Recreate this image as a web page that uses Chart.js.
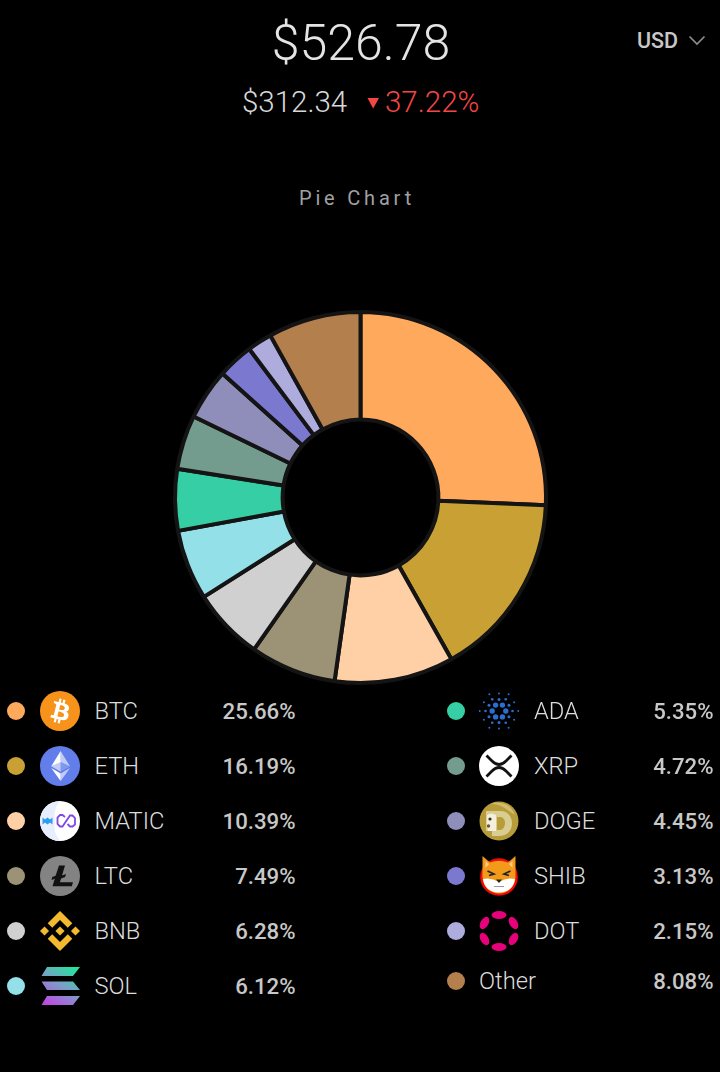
<!DOCTYPE html>
<html>
<head>
<meta charset="utf-8">
<title>Pie Chart</title>
<script src="https://cdn.jsdelivr.net/npm/chart.js@4"></script>
<style>
html, body { margin: 0; background: #000; }
body { position: relative; width: 720px; height: 1072px; overflow: hidden; font-family: Roboto, sans-serif; color: #ddd; }
.abs { position: absolute; white-space: nowrap; line-height: 1; }
#total { left: 0; width: 722px; top: 18px; text-align: center; font-size: 50px; font-weight: 300; color: #e4e4e4; }
#cost { left: 242px; top: 88px; font-size: 29.5px; font-weight: 300; color: #d8d8d8; }
#tri { left: 367px; top: 97px; }
#change { left: 385px; top: 88px; font-size: 29.5px; font-weight: 300; color: #f44646; }
#currency { left: 637px; top: 30px; font-size: 21.5px; font-weight: 500; color: #c8c8c8; }
#chev { left: 688px; top: 34px; }
#title { left: 0; width: 714px; top: 188px; text-align: center; font-size: 20px; letter-spacing: 3.8px; color: #a0a0a0; }
#pie { position: absolute; left: 161px; top: 297px; }
.dot { position: absolute; width: 18px; height: 18px; border-radius: 50%; }
.icon { position: absolute; width: 40px; height: 40px; }
.name { font-size: 23.7px; font-weight: 300; color: #dcdcdc; }
.pct { font-size: 22.2px; font-weight: 500; color: #c8c8c8; text-align: right; }
</style>
</head>
<body>
<div class="abs" id="total">$526.78</div>
<div class="abs" id="cost">$312.34</div>
<svg class="abs" id="tri" width="13" height="12"><path d="M0.5 1H12L6.2 11.5z" fill="#f44646"/></svg>
<div class="abs" id="change">37.22%</div>
<div class="abs" id="currency">USD</div>
<svg class="abs" id="chev" width="18" height="14"><path d="M1.5 2.5L9 10L16.5 2.5" fill="none" stroke="#8c8c8c" stroke-width="1.7"/></svg>
<div class="abs" id="title">Pie Chart</div>
<canvas id="pie" width="399" height="401"></canvas>

<script>
const symbols = ['BTC', 'ETH', 'MATIC', 'LTC', 'BNB', 'SOL', 'ADA', 'XRP', 'DOGE', 'SHIB', 'DOT', 'Other'];
const shares = [25.66, 16.19, 10.39, 7.49, 6.28, 6.12, 5.35, 4.72, 4.45, 3.13, 2.15, 8.08];
const colors = ['#ffa95c', '#c9a033', '#ffd0a6', '#9c9276', '#d0d0d0', '#93e0e8', '#36cfa5', '#749c8e', '#8f8dba', '#7b78d0', '#adacdc', '#b37f4c'];

// small hand drawn coin logos, 40x40 unless a viewBox says otherwise
function adaDots() {
    const rings = [[6.8, 2.7, 0], [11.5, 1.5, 30], [13.5, 1.3, 0], [17.5, 1.0, 30], [19.3, 1.0, 0]];
    let out = '';
    rings.forEach(([r, size, start]) => {
        for (let k = 0; k < 6; k++) {
            const a = (start + k * 60) * Math.PI / 180;
            out += `<circle cx="${20 + r * Math.cos(a)}" cy="${20 + r * Math.sin(a)}" r="${size}" fill="#2a6fcf"/>`;
        }
    });
    return out;
}

const icons = {
    BTC: `<svg class="icon" viewBox="0 0 32 32"><circle cx="16" cy="16" r="16" fill="#f7931a"/><path fill="#fff" d="M23.189 14.02c.314-2.096-1.283-3.223-3.465-3.975l.708-2.84-1.728-.43-.69 2.765c-.454-.114-.92-.22-1.385-.326l.695-2.783L15.596 6l-.708 2.839c-.376-.086-.746-.17-1.104-.26l.002-.009-2.384-.595-.46 1.846s1.283.294 1.256.312c.7.175.826.638.805 1.006l-.806 3.235c.048.012.11.03.18.057l-.183-.045-1.13 4.532c-.086.212-.303.531-.793.41.018.025-1.256-.313-1.256-.313l-.858 1.978 2.25.561c.418.105.828.215 1.231.318l-.715 2.872 1.727.43.708-2.84c.472.127.93.245 1.378.357l-.706 2.828 1.728.43.715-2.866c2.948.558 5.164.333 6.097-2.333.752-2.146-.037-3.385-1.588-4.192 1.13-.26 1.98-1.003 2.207-2.538zm-3.95 5.538c-.533 2.147-4.148.986-5.32.695l.95-3.805c1.172.293 4.929.872 4.37 3.11zm.535-5.569c-.487 1.953-3.495.96-4.47.717l.86-3.45c.975.243 4.118.696 3.61 2.733z"/></svg>`,
    ETH: `<svg class="icon" viewBox="0 0 32 32"><circle cx="16" cy="16" r="16" fill="#627eea"/><g fill="#fff"><path fill-opacity=".6" d="M16.5 4v8.87l7.5 3.35z"/><path d="M16.5 4L9 16.22l7.5-3.35z"/><path fill-opacity=".6" d="M16.5 21.97V28L24 17.62z"/><path d="M16.5 28v-6.03L9 17.62z"/><path fill-opacity=".2" d="M16.5 20.57l7.5-4.35-7.5-3.35z"/><path fill-opacity=".6" d="M9 16.22l7.5 4.35v-8.7z"/></g></svg>`,
    MATIC: `<svg class="icon" viewBox="0 0 40 40"><circle cx="20" cy="20" r="20" fill="#fff"/><path d="M20 0A20 20 0 0 0 20 40A24 24 0 0 1 15 20A24 24 0 0 1 20 0z" fill="#e6eeff"/><path d="M2.5 16.500v7l2.500-2 2.500 2 2.500-2 2.500 2v-7l-2.500 2-2.500-2-2.500 2z" fill="#2d9bf0"/><path d="M25 16L22.500 14h-2.500L17.500 16.500v6.500L20 25.500h2.500L30 14.500h2.500L35 17v6.500L32.500 25.500H30L27.500 23" fill="none" stroke="#8247e5" stroke-width="1.8"/></svg>`,
    LTC: `<svg class="icon" viewBox="0 0 40 40"><circle cx="20" cy="20" r="20" fill="#838383"/><path fill="#111" d="M19 9.500h6l-3 10 4-1.500-.9 3-4 1.500-1.200 3.800H33l-1.200 4H12.500l2.300-7.600-3.300 1.200.8-2.900 3.300-1.200z"/></svg>`,
    BNB: `<svg class="icon" viewBox="6 6 20 20"><path fill="#f3ba2f" d="M12.116 14.404L16 10.52l3.886 3.886 2.26-2.26L16 6l-6.144 6.144 2.26 2.26zM6 16l2.26-2.26L10.52 16l-2.26 2.26L6 16zm6.116 1.596L16 21.48l3.886-3.886 2.26 2.259L16 26l-6.144-6.144-.003-.003 2.263-2.257zM21.48 16l2.26-2.26L26 16l-2.26 2.26L21.48 16zm-3.188-.002h.002V16L16 18.294l-2.291-2.29-.004-.004.004-.003.401-.402.195-.195L16 13.706l2.293 2.293z"/></svg>`,
    SOL: `<svg class="icon" viewBox="0 0 40 40"><defs><linearGradient id="solg" gradientUnits="userSpaceOnUse" x1="34" y1="-3" x2="8" y2="42"><stop offset="0" stop-color="#14f195"/><stop offset=".5" stop-color="#7c9dc8"/><stop offset="1" stop-color="#c73ee8"/></linearGradient></defs><path fill="url(#solg)" d="M7 1h33l-7 9H1.5zM1.5 15.500H33l7 8.500H7zM7 30h33l-7 9H1.500z"/></svg>`,
    ADA: `<svg class="icon" viewBox="0 0 40 40">${adaDots()}</svg>`,
    XRP: `<svg class="icon" viewBox="0 0 40 40"><circle cx="20" cy="20" r="20" fill="#fff"/><path d="M7.500 9.500L13 15Q20 22 27 15L32.500 9.500M7.500 30.500L13 25Q20 18 27 25L32.500 30.500" fill="none" stroke="#111" stroke-width="2.800"/></svg>`,
    DOGE: `<svg class="icon" viewBox="0 0 40 40"><circle cx="20" cy="20" r="19.500" fill="#b79c3a"/><path d="M12 3A18 18 0 0 1 36 14L30 10Q20 2 12 3z" fill="#d2bd6c"/><path fill="#d9cd93" d="M7 10h14c8 0 12 5.500 12 12.500S28 35 21 35h-8V30H7z"/><path fill="#b79c3a" d="M18 16h3c3 0 5 2.500 5 6s-2 7-5 7h-3z"/><path fill="#f4efdc" d="M8 14q4-3 9 0v16H9q-2-8-1-16z"/><circle cx="11" cy="18" r="1.600" fill="#3a3015"/><circle cx="9.500" cy="25" r="1.700" fill="#6b5a2a"/></svg>`,
    SHIB: `<svg class="icon" viewBox="0 0 40 40"><circle cx="20" cy="21" r="18.800" fill="#f00a0a"/><path fill="#f39a1b" d="M3.500 0L11 6.500Q20 3 29 6.500L36.500 0 36.500 21A16 16 0 0 1 3.500 21z"/><path fill="#ffc98a" d="M6.500 5L10 8 6.500 12zM33.500 5L30 8 33.500 12z"/><path fill="#fff" d="M4 23Q12 21 20 26 28 21 36 23 34 36 20 36.500 6 36 4 23z"/><path fill="none" stroke="#222" stroke-width="1.700" d="M8.500 15l6.500 3-5 1.500M31.500 15l-6.500 3 5 1.500"/><path fill="#222" d="M17 23.500h6l-3 3.500z"/><path fill="none" stroke="#999" stroke-width="1" d="M15 30.500h10"/></svg>`,
    DOT: `<svg class="icon" viewBox="0 0 40 40"><g fill="#e6007a"><ellipse cx="20" cy="4" rx="7.500" ry="4"/><ellipse cx="20" cy="36" rx="7.500" ry="4"/><ellipse cx="5.500" cy="12" rx="6.700" ry="4" transform="rotate(-60 5.500 12)"/><ellipse cx="34.500" cy="12" rx="6.700" ry="4" transform="rotate(60 34.500 12)"/><ellipse cx="5.500" cy="28" rx="6.700" ry="4" transform="rotate(60 5.500 28)"/><ellipse cx="34.500" cy="28" rx="6.700" ry="4" transform="rotate(-60 34.500 28)"/></g></svg>`
};

function addLegendRow(i) {
    const right = i >= 6;
    const row = right ? i - 6 : i;
    const isOther = symbols[i] === 'Other';
    const y = isOther ? 981 : 711 + row * 55;
    const dx = right ? 439 : 0;

    const dot = document.createElement('div');
    dot.className = 'dot';
    dot.style.left = (7 + (right ? 440 : 0)) + 'px';
    dot.style.top = (y - 9) + 'px';
    dot.style.background = colors[i];
    document.body.appendChild(dot);

    if (icons[symbols[i]]) {
        const wrap = document.createElement('div');
        wrap.innerHTML = icons[symbols[i]];
        const svg = wrap.firstChild;
        svg.style.left = (40 + dx) + 'px';
        svg.style.top = (y - 20) + 'px';
        document.body.appendChild(svg);
    }

    const name = document.createElement('div');
    name.className = 'abs name';
    name.textContent = symbols[i];
    name.style.left = (isOther ? 479 : (right ? 534 : 94.5)) + 'px';
    name.style.top = (y - 11) + 'px';
    document.body.appendChild(name);

    const pct = document.createElement('div');
    pct.className = 'abs pct';
    pct.textContent = shares[i].toFixed(2) + '%';
    pct.style.right = (right ? 6.5 : 424.5) + 'px';
    pct.style.top = (y - 11) + 'px';
    document.body.appendChild(pct);
}

symbols.forEach((s, i) => addLegendRow(i));

new Chart(document.getElementById('pie'), {
    type: 'doughnut',
    data: {
        labels: symbols,
        datasets: [{
            data: shares,
            backgroundColor: colors,
            borderColor: '#141414',
            borderWidth: 4
        }]
    },
    options: {
        responsive: false,
        animation: false,
        radius: 185.5,
        cutout: '42%',
        plugins: {
            legend: { display: false },
            tooltip: { enabled: false }
        }
    }
});
</script>
</body>
</html>
